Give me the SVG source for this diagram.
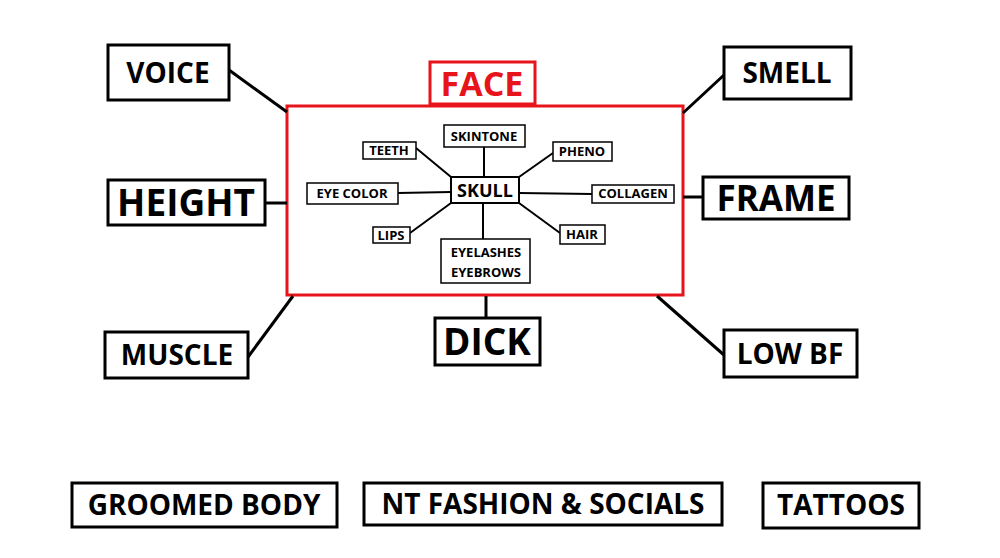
<svg xmlns="http://www.w3.org/2000/svg" width="1000" height="558" viewBox="0 0 1000 558">
<style>
rect{fill:#fff;stroke:#000;stroke-width:3}
rect.bg{stroke:none}
rect.s{stroke-width:1.5}
text{font-family:"Open Sans","Noto Sans",sans-serif;font-weight:bold;text-anchor:middle;fill:#000}
.c line{stroke:#000;stroke-width:3}
.c line.s{stroke-width:2}
.i{font-size:13px}
</style>
<rect class="bg" width="1000" height="558"/>
<g id="face-frame"><rect x="287" y="106" width="396" height="189" style="stroke:#e8141c"/></g>
<g class="c">
<line x1="229" y1="70" x2="287" y2="112"/>
<line x1="724" y1="75" x2="683" y2="113"/>
<line x1="265" y1="203" x2="287" y2="203"/>
<line x1="683" y1="197" x2="703" y2="197"/>
<line x1="248" y1="357" x2="293" y2="296"/>
<line x1="486" y1="296" x2="486" y2="318"/>
<line x1="724" y1="355" x2="657" y2="296"/>
<line class="s" x1="484" y1="147" x2="484" y2="177"/>
<line class="s" x1="416" y1="148" x2="451" y2="177"/>
<line class="s" x1="553" y1="153" x2="519" y2="177"/>
<line class="s" x1="398" y1="193" x2="451" y2="192"/>
<line class="s" x1="519" y1="193" x2="592" y2="194"/>
<line class="s" x1="410" y1="233" x2="451" y2="203"/>
<line class="s" x1="560" y1="233" x2="519" y2="203"/>
<line class="s" x1="483" y1="203" x2="483" y2="239"/>
</g>
<g id="face"><rect x="430" y="62" width="105" height="42" style="stroke:#e8141c"/><text x="482" y="96" font-size="34" style="fill:#e8141c">FACE</text></g>
<g id="voice"><rect x="108" y="45" width="121" height="55"/><text x="168" y="83" font-size="28">VOICE</text></g>
<g id="height"><rect x="108" y="180" width="157" height="45"/><text x="186" y="216" font-size="37">HEIGHT</text></g>
<g id="smell"><rect x="724" y="47" width="127" height="52"/><text x="787" y="83" font-size="28">SMELL</text></g>
<g id="frame"><rect x="703" y="177" width="146" height="42"/><text x="776" y="211" font-size="35">FRAME</text></g>
<g id="muscle"><rect x="105" y="332" width="143" height="46"/><text x="177" y="365" font-size="28">MUSCLE</text></g>
<g id="dick"><rect x="435" y="318" width="105" height="47"/><text x="487" y="355" font-size="37">DICK</text></g>
<g id="lowbf"><rect x="724" y="330" width="133" height="47"/><text x="790" y="364" font-size="28">LOW BF</text></g>
<g id="groomed"><rect x="72" y="483" width="265" height="44"/><text x="204" y="515" font-size="28">GROOMED BODY</text></g>
<g id="fashion"><rect x="364" y="483" width="358" height="42"/><text x="543" y="514" font-size="28">NT FASHION &amp; SOCIALS</text></g>
<g id="tattoos"><rect x="763" y="483" width="156" height="45"/><text x="841" y="515" font-size="28">TATTOOS</text></g>
<g id="skull"><rect x="451" y="177" width="68" height="26" style="stroke-width:2"/><text x="485" y="197" font-size="18">SKULL</text></g>
<g id="skintone"><rect class="s" x="444" y="125" width="81" height="22"/><text class="i" x="484" y="141">SKINTONE</text></g>
<g id="teeth"><rect class="s" x="363" y="142" width="53" height="17"/><text class="i" x="389" y="155">TEETH</text></g>
<g id="pheno"><rect class="s" x="553" y="142" width="59" height="19"/><text class="i" x="582" y="156">PHENO</text></g>
<g id="eyecolor"><rect class="s" x="307" y="183" width="91" height="21"/><text class="i" x="352" y="198">EYE COLOR</text></g>
<g id="collagen"><rect class="s" x="592" y="185" width="82" height="18"/><text class="i" x="633" y="198">COLLAGEN</text></g>
<g id="lips"><rect class="s" x="373" y="227" width="37" height="16"/><text class="i" x="391" y="240">LIPS</text></g>
<g id="hair"><rect class="s" x="560" y="225" width="45" height="19"/><text class="i" x="582" y="239">HAIR</text></g>
<g id="eyelashes"><rect class="s" x="441" y="239" width="89" height="44"/><text class="i" x="486" y="257">EYELASHES</text><text class="i" x="486" y="277">EYEBROWS</text></g>
</svg>
